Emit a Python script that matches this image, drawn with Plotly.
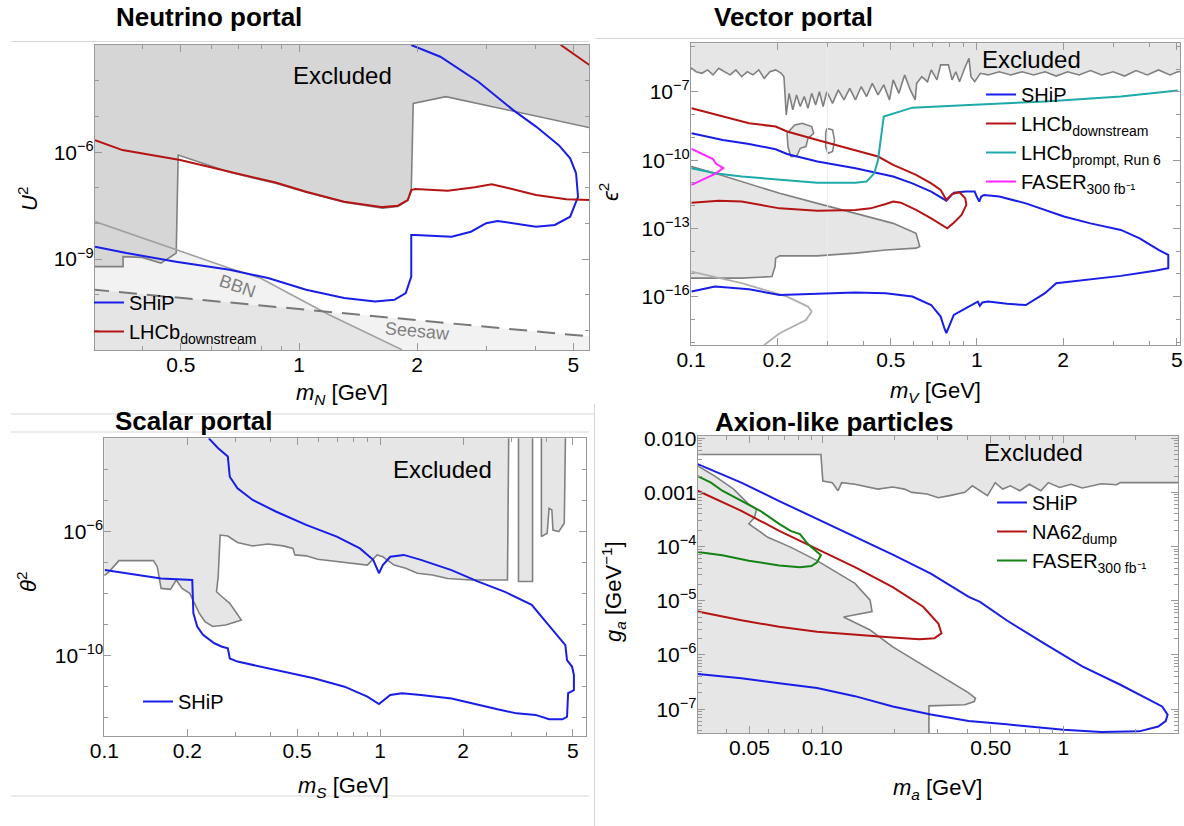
import plotly.graph_objects as go

FONT = "Liberation Sans, Arial, sans-serif"
W, H = 1184, 826

# ---------------- Neutrino portal (log10 m_N [GeV], log10 U^2) ----------------
nu_excl_logm = [-0.6, -0.520, -0.4485, -0.4485, -0.40, -0.352, -0.313, -0.308, -0.177, -0.060, 0.018,
                0.115, 0.213, 0.252, 0.277, 0.286, 0.291, 0.374, 0.740, 0.80, 0.80, -0.6]
nu_excl_logU2 = [-9.21, -9.21, -9.21, -8.93, -8.95, -9.11, -8.83, -6.08, -6.56, -6.87, -7.12,
                 -7.40, -7.57, -7.52, -7.35, -7.10, -4.63, -4.44, -5.33, -5.45, -2.5, -2.5]
nu_bbn_logm = [-0.520, -0.313, -0.177, -0.099, 0.0765, 0.262]
nu_bbn_logU2 = [-7.946, -8.74, -9.253, -9.532, -10.561, -11.54]
nu_seesaw_logm = [-0.53, 0.75]
nu_seesaw_logU2 = [-9.85, -11.18]
nu_ship_logm = [-0.520, -0.440, -0.3135, -0.177, -0.079, 0.018, 0.115, 0.194, 0.243, 0.272,
                0.286, 0.286, 0.296, 0.389, 0.438, 0.477, 0.506, 0.545, 0.604, 0.652,
                0.691, 0.711, 0.706, 0.691, 0.662, 0.604, 0.545, 0.457, 0.360, 0.286]
nu_ship_logU2 = [-8.65, -8.83, -9.07, -9.30, -9.53, -9.86, -10.09, -10.19, -10.14, -9.95,
                 -9.49, -8.32, -8.32, -8.37, -8.23, -7.99, -7.93, -7.99, -8.09, -8.04,
                 -7.81, -7.25, -6.59, -6.17, -5.80, -5.28, -4.81, -4.02, -3.32, -2.99]
nu_lhcb_logm = [-0.520, -0.450, -0.303, -0.177, -0.060, 0.018, 0.115, 0.213, 0.252, 0.277, 0.286,
                0.296, 0.379, 0.448, 0.491, 0.535, 0.604, 0.681, 0.740, None, 0.667, 0.740]
nu_lhcb_logU2 = [-5.66, -5.94, -6.22, -6.54, -6.85, -7.11, -7.39, -7.54, -7.50, -7.34, -7.06,
                 -7.03, -7.08, -6.98, -6.90, -7.01, -7.20, -7.32, -7.34, None, -2.99, -3.55]

# ---------------- Vector portal (log10 m_V [GeV], log10 eps^2) ----------------
vp_top_logm = [-0.998, -0.982, -0.962, -0.942, -0.923, -0.903, -0.883, -0.863, -0.843, -0.823,
               -0.803, -0.783, -0.763, -0.744, -0.724, -0.704, -0.684, -0.675, -0.667, -0.657,
               -0.644, -0.631, -0.618, -0.604, -0.591, -0.578, -0.564, -0.551, -0.538, -0.525,
               -0.505, -0.485, -0.465, -0.445, -0.425, -0.405, -0.386, -0.366, -0.346, -0.326,
               -0.306, -0.293, -0.273, -0.253, -0.233, -0.216, -0.211, -0.193, -0.173, -0.160,
               -0.140, -0.127, -0.100, -0.087, -0.074, -0.061, -0.041, -0.028, -0.021, -0.008,
               0.012, 0.039, 0.078, 0.118, 0.158, 0.198, 0.238, 0.277, 0.317, 0.357,
               0.397, 0.436, 0.476, 0.516, 0.556, 0.596, 0.635, 0.675, 0.702]
vp_top_logeps = [-5.96, -6.11, -6.18, -6.03, -6.25, -5.96, -6.11, -6.25, -6.03, -6.33,
                 -6.11, -6.25, -6.03, -6.40, -6.11, -6.03, -6.18, -6.33, -8.01, -7.06,
                 -7.79, -7.13, -7.64, -7.20, -7.72, -7.06, -7.57, -6.99, -7.64, -6.99,
                 -7.50, -6.91, -7.35, -6.84, -7.35, -6.77, -7.20, -6.62, -7.13, -6.69,
                 -7.35, -6.47, -7.06, -6.25, -6.91, -7.35, -6.62, -6.33, -6.55, -6.03,
                 -6.47, -5.81, -5.81, -6.47, -6.11, -6.55, -5.89, -5.52, -6.33, -6.55,
                 -6.18, -6.25, -6.11, -6.25, -6.11, -6.25, -6.11, -6.30, -6.11, -6.25,
                 -6.06, -6.25, -6.11, -6.30, -6.06, -6.25, -6.03, -6.25, -6.11]
vp_low_logm = [-1.05, -0.998, -0.916, -0.823, -0.690, -0.558, -0.425, -0.293, -0.213, -0.200, -0.213,
               -0.319, -0.425, -0.558, -0.690, -0.704, -0.706, -0.717, -0.823, -0.956, -1.05]
vp_low_logeps = [-10.28, -10.28, -10.58, -10.94, -11.46, -11.90, -12.34, -12.78, -13.22, -13.80, -13.87,
                 -13.95, -14.09, -14.21, -14.21, -14.31, -14.68, -15.12, -15.19, -15.19, -15.19]
vp_blob_logm = [-0.661, -0.664, -0.637, -0.611, -0.578, -0.571, -0.591, -0.598, -0.618, -0.631, -0.651, -0.661]
vp_blob_logeps = [-9.40, -8.82, -8.45, -8.38, -8.52, -8.82, -9.04, -9.40, -9.48, -9.84, -9.84, -9.40]
vp_loop_logm = [-0.525, -0.505, -0.498, -0.505, -0.521, -0.529, -0.529, -0.525]
vp_loop_logeps = [-8.60, -8.67, -9.11, -9.62, -9.70, -9.40, -8.82, -8.60]
vp_light_logm = [-0.998, -0.823, -0.664, -0.591, -0.578, -0.598, -0.690, -0.744]
vp_light_logeps = [-14.90, -15.41, -16.00, -16.44, -16.66, -17.03, -17.61, -18.13]
vp_ship_logm = [-0.998, -0.889, -0.797, -0.704, -0.664, -0.558, -0.425, -0.293, -0.226, -0.160,
                -0.107, -0.081, -0.041, -0.008, -0.001, 0.008, 0.015, 0.025, 0.078, 0.171,
                0.304, 0.397, 0.503, 0.569, 0.635, 0.669, 0.669, 0.622, 0.503, 0.370,
                0.277, 0.238, 0.171, 0.105, 0.039, 0.019, 0.010, 0.003, -0.041, -0.081,
                -0.100, -0.107, -0.114, -0.127, -0.160, -0.226, -0.319, -0.425, -0.558, -0.690,
                -0.797, -0.916, -0.998]
vp_ship_logeps = [-8.82, -9.11, -9.29, -9.52, -9.73, -10.06, -10.36, -10.72, -11.02, -11.38,
                  -11.78, -11.43, -11.38, -11.38, -11.60, -11.82, -11.60, -11.53, -11.60, -11.90,
                  -12.48, -12.78, -13.07, -13.44, -13.95, -14.17, -14.75, -14.86, -15.09, -15.27,
                  -15.41, -15.85, -16.37, -16.32, -16.22, -16.26, -16.41, -16.22, -16.51, -16.81,
                  -17.39, -17.61, -17.39, -16.88, -16.37, -16.00, -15.85, -15.82, -15.88, -15.93,
                  -15.68, -15.56, -15.78]
vp_lhcb_logm = [-0.998, -0.889, -0.797, -0.704, -0.664, -0.558, -0.425, -0.346, -0.293, -0.213,
                -0.160, -0.127, -0.107, -0.087, -0.061, -0.041, -0.037, -0.054, -0.081, -0.104,
                -0.160, -0.213, -0.266, -0.293, -0.319, -0.372, -0.425, -0.558, -0.690, -0.823,
                -0.903, -0.998]
vp_lhcb_logeps = [-7.72, -8.08, -8.38, -8.52, -8.74, -9.11, -9.55, -9.84, -10.21, -10.65,
                  -11.02, -11.31, -11.75, -11.49, -11.41, -11.68, -11.97, -12.41, -12.75, -13.00,
                  -12.56, -12.19, -11.87, -11.82, -11.93, -12.12, -12.19, -12.22, -12.12, -11.82,
                  -11.78, -11.87]
vp_prompt_logm = [-0.998, -0.916, -0.823, -0.690, -0.558, -0.425, -0.386, -0.359, -0.346, -0.326,
                  -0.293, -0.226, -0.028, 0.238, 0.503, 0.702]
vp_prompt_logeps = [-10.36, -10.58, -10.72, -10.87, -10.99, -10.99, -10.94, -10.58, -9.99, -8.08,
                    -7.94, -7.69, -7.57, -7.42, -7.20, -6.94]
vp_faser_logm = [-0.998, -0.956, -0.923, -0.913, -0.887, -0.916, -0.956, -0.998]
vp_faser_logeps = [-9.50, -9.75, -9.95, -10.15, -10.35, -10.60, -10.85, -11.09]

# ---------------- Scalar portal (log10 m_S [GeV], log10 theta^2) ----------------
sp_excl_logm = [-1.02, -1.02, -0.998, -0.982, -0.947, -0.822, -0.808, -0.794, -0.760, -0.739,
                -0.718, -0.690, -0.656, -0.635, -0.607, -0.559, -0.503, -0.545, -0.573, -0.593,
                -0.587, -0.580, -0.552, -0.517, -0.462, -0.406, -0.351, -0.316, -0.309, -0.268,
                -0.226, -0.157, -0.101, -0.046, -0.011, 0.010, 0.051, 0.093, 0.135, 0.190,
                0.245, 0.329, 0.462, 0.467]
sp_excl_logth = [-2.5, -7.42, -7.40, -7.29, -6.935, -6.935, -7.13, -7.83, -7.86, -7.56,
                 -7.83, -7.99, -8.63, -8.90, -9.06, -9.01, -8.85, -8.31, -8.10, -7.94,
                 -7.45, -6.11, -6.14, -6.35, -6.46, -6.40, -6.46, -6.54, -6.75, -6.78,
                 -6.89, -6.97, -7.02, -7.08, -6.75, -6.81, -7.08, -7.18, -7.34, -7.40,
                 -7.51, -7.56, -7.56, -2.5]
sp_strip2_logm = [0.502, 0.502, 0.553, 0.553]
sp_strip2_logth = [-2.5, -7.61, -7.61, -2.5]
sp_strip3_logm = [0.585, 0.585, 0.606, 0.613, 0.623, 0.627, 0.648, 0.668, 0.673]
sp_strip3_logth = [-2.5, -6.16, -6.05, -5.25, -5.30, -5.95, -6.00, -5.73, -2.5]
sp_ship_logm = [-0.621, -0.587, -0.552, -0.545, -0.517, -0.462, -0.378, -0.268, -0.157, -0.073,
                -0.025, -0.004, 0.010, 0.037, 0.086, 0.148, 0.259, 0.356, 0.453, 0.550,
                0.606, 0.648, 0.672, 0.678, 0.696, 0.703, 0.703, 0.682, 0.678, 0.662,
                0.613, 0.564, 0.495, 0.426, 0.356, 0.259, 0.148, 0.079, 0.037, -0.004,
                -0.046, -0.129, -0.240, -0.406, -0.517, -0.545, -0.552, -0.573, -0.601, -0.642,
                -0.663, -0.677, -0.681, -0.794, -0.998]
sp_ship_logth = [-2.99, -3.31, -3.58, -4.23, -4.60, -4.98, -5.35, -5.78, -6.16, -6.54,
                 -6.91, -7.34, -7.08, -6.81, -6.75, -6.91, -7.24, -7.61, -7.94, -8.36,
                 -8.96, -9.39, -9.66, -10.14, -10.35, -10.62, -11.11, -11.21, -11.97, -12.05,
                 -12.05, -11.91, -11.86, -11.73, -11.59, -11.38, -11.27, -11.21, -11.27, -11.56,
                 -11.32, -11.00, -10.73, -10.41, -10.19, -10.09, -9.76, -9.71, -9.60, -9.33,
                 -9.06, -8.63, -7.56, -7.51, -7.24]

# ---------------- Axion-like particles (log10 m_a [GeV], log10 g_a [GeV^-1]) ----------------
ap_top_logm = [-1.55, -1.55, -1.005, -0.997, -0.958, -0.934, -0.919, -0.864, -0.769, -0.707,
               -0.659, -0.628, -0.565, -0.518, -0.471, -0.408, -0.377, -0.345, -0.314, -0.282,
               -0.251, -0.219, -0.180, -0.141, -0.093, -0.062, -0.015, 0.032, 0.079, 0.158,
               0.221, 0.237, 0.52, 0.52]
ap_top_logg = [-1.5, -2.30, -2.30, -2.79, -2.82, -2.97, -2.82, -2.85, -2.94, -2.90,
               -2.94, -3.00, -3.03, -3.10, -3.06, -3.00, -2.88, -2.97, -3.06, -2.82,
               -2.94, -2.88, -2.97, -2.85, -2.97, -2.82, -2.91, -2.85, -2.92, -2.84,
               -2.86, -2.82, -2.82, -1.5]
ap_low_logm = [-1.55, -1.516, -1.445, -1.367, -1.304, -1.272, -1.280, -1.304, -1.225, -1.131,
               -1.021, -0.942, -0.864, -0.801, -0.793, -0.911, -0.801, -0.707, -0.597, -0.502,
               -0.439, -0.392, -0.364, -0.369, -0.408, -0.557, -0.557, -1.55]
ap_low_logg = [-2.45, -2.51, -2.70, -2.94, -3.22, -3.31, -3.46, -3.58, -3.83, -4.01,
               -4.26, -4.47, -4.68, -4.99, -5.20, -5.30, -5.54, -5.85, -6.15, -6.40,
               -6.58, -6.70, -6.80, -6.86, -6.92, -6.94, -7.6, -7.6]
ap_ship_logm = [-1.516, -1.335, -1.178, -1.021, -0.864, -0.738, -0.707, -0.549, -0.392, -0.345,
                -0.235, -0.078, 0.079, 0.237, 0.347, 0.410, 0.433, 0.425, 0.394, 0.315,
                0.158, 0.001, -0.235, -0.392, -0.549, -0.707, -0.864, -1.021, -1.178, -1.335, -1.516]
ap_ship_logg = [-2.48, -2.82, -3.16, -3.49, -3.83, -4.10, -4.15, -4.50, -4.93, -5.02,
                -5.36, -5.79, -6.21, -6.55, -6.80, -6.95, -7.10, -7.22, -7.32, -7.41,
                -7.42, -7.38, -7.28, -7.22, -7.10, -6.95, -6.76, -6.61, -6.52, -6.43, -6.35]
ap_na62_logm = [-1.516, -1.335, -1.178, -1.021, -0.864, -0.707, -0.581, -0.518, -0.505, -0.534,
                -0.597, -0.707, -0.864, -1.021, -1.178, -1.335, -1.516]
ap_na62_logg = [-2.97, -3.34, -3.71, -4.04, -4.38, -4.75, -5.11, -5.42, -5.60, -5.69,
                -5.71, -5.68, -5.63, -5.57, -5.48, -5.36, -5.20]
ap_faser_logm = [-1.516, -1.461, -1.414, -1.335, -1.257, -1.178, -1.131, -1.092, -1.060, -1.029,
                 -1.005, -1.021, -1.044, -1.092, -1.178, -1.304, -1.414, -1.516]
ap_faser_logg = [-2.70, -2.82, -2.97, -3.16, -3.34, -3.58, -3.71, -3.77, -3.95, -4.07,
                 -4.16, -4.29, -4.36, -4.38, -4.35, -4.26, -4.16, -4.10]

# tick labels
nu_xticks = [0.5, 1, 2, 5]
nu_yticks = [1e-9, 1e-6]
nu_ytext = ["10<sup>−9</sup>", "10<sup>−6</sup>"]
vp_xticks = [0.1, 0.2, 0.5, 1, 2, 5]
vp_yticks = [1e-16, 1e-13, 1e-10, 1e-7]
vp_ytext = ["10<sup>−16</sup>", "10<sup>−13</sup>", "10<sup>−10</sup>", "10<sup>−7</sup>"]
sp_xticks = [0.1, 0.2, 0.5, 1, 2, 5]
sp_yticks = [1e-10, 1e-6]
sp_ytext = ["10<sup>−10</sup>", "10<sup>−6</sup>"]
ap_xticks = [0.05, 0.1, 0.5, 1]
ap_xtext = ["0.05", "0.10", "0.50", "1"]
ap_yticks = [1e-7, 1e-6, 1e-5, 1e-4, 1e-3, 1e-2]
ap_ytext = ["10<sup>−7</sup>", "10<sup>−6</sup>", "10<sup>−5</sup>", "10<sup>−4</sup>", "0.001", "0.010"]


def lin(a):
    return [None if v is None else 10 ** v for v in a]


BLUE = "rgb(25,30,230)"
RED = "rgb(180,20,20)"
CYAN = "rgb(30,170,170)"
MAGENTA = "rgb(255,40,255)"
GREEN = "rgb(20,130,20)"
GRAY = "rgb(128,128,128)"
FILL1 = "rgb(214,214,214)"
FILL = "rgb(230,230,230)"

fig = go.Figure()


def poly(xl, yl, ax, fill, line=GRAY, lw=1.6):
    fig.add_trace(go.Scatter(x=lin(xl), y=lin(yl), xaxis=ax[0], yaxis=ax[1], mode="lines",
                             fill="toself", fillcolor=fill, line=dict(color=line, width=lw),
                             showlegend=False, hoverinfo="skip"))


def curve(xl, yl, ax, color, name=None, legend=None, width=2, dash=None):
    fig.add_trace(go.Scatter(x=lin(xl), y=lin(yl), xaxis=ax[0], yaxis=ax[1], mode="lines",
                             line=dict(color=color, width=width, dash=dash), name=name,
                             showlegend=name is not None, legend=legend, hoverinfo="skip"))


A1, A2, A3, A4 = ("x", "y"), ("x2", "y2"), ("x3", "y3"), ("x4", "y4")

# Neutrino portal
poly(nu_bbn_logm + [0.262, -0.6, -0.6], nu_bbn_logU2 + [-12, -12, -7.946], A1, "rgba(0,0,0,0.05)", "rgba(0,0,0,0)", 0)
poly(nu_seesaw_logm + [0.75, -0.53], nu_seesaw_logU2 + [-12, -12], A1, "rgba(0,0,0,0.05)", "rgba(0,0,0,0)", 0)
poly(nu_excl_logm, nu_excl_logU2, A1, FILL1)
curve(nu_bbn_logm, nu_bbn_logU2, A1, "rgb(160,160,160)", width=1.6)
curve(nu_seesaw_logm, nu_seesaw_logU2, A1, "rgb(120,120,120)", width=2, dash="18px,10px")
curve(nu_ship_logm, nu_ship_logU2, A1, BLUE, "SHiP", "legend")
curve(nu_lhcb_logm, nu_lhcb_logU2, A1, RED, "LHCb<sub>downstream</sub>", "legend")

# Vector portal
poly([-1.05, -1.05] + vp_top_logm + [0.75, 0.75], [-4.0, -5.96] + vp_top_logeps + [-6.11, -4.0], A2, FILL)
poly(vp_low_logm, vp_low_logeps, A2, FILL)
poly(vp_blob_logm, vp_blob_logeps, A2, FILL)
curve(vp_loop_logm, vp_loop_logeps, A2, GRAY, width=1.6)
curve(vp_light_logm, vp_light_logeps, A2, "rgb(175,175,175)", width=1.8)
curve([-0.523, -0.523], [-19, -4], A2, "rgb(235,235,235)", width=1)
curve(vp_ship_logm, vp_ship_logeps, A2, BLUE, "SHiP", "legend2")
curve(vp_lhcb_logm, vp_lhcb_logeps, A2, RED, "LHCb<sub>downstream</sub>", "legend2")
curve(vp_prompt_logm, vp_prompt_logeps, A2, CYAN, "LHCb<sub>prompt, Run 6</sub>", "legend2")
curve(vp_faser_logm, vp_faser_logeps, A2, MAGENTA, "FASER<sub>300 fb⁻¹</sub>", "legend2")

# Scalar portal
poly(sp_excl_logm, sp_excl_logth, A3, FILL)
poly(sp_strip2_logm, sp_strip2_logth, A3, FILL)
poly(sp_strip3_logm, sp_strip3_logth, A3, FILL)
curve(sp_ship_logm, sp_ship_logth, A3, BLUE, "SHiP", "legend3")

# ALPs
poly(ap_top_logm, ap_top_logg, A4, FILL)
poly(ap_low_logm, ap_low_logg, A4, FILL)
curve(ap_ship_logm, ap_ship_logg, A4, BLUE, "SHiP", "legend4")
curve(ap_na62_logm, ap_na62_logg, A4, RED, "NA62<sub>dump</sub>", "legend4")
curve(ap_faser_logm, ap_faser_logg, A4, GREEN, "FASER<sub>300 fb⁻¹</sub>", "legend4")


def minors(decades):
    out = []
    for d in decades:
        for k in range(2, 10):
            out.append(k * 10.0 ** d)
    return out


def decade_vals(lo, hi):
    return [10.0 ** d for d in range(lo, hi + 1)]


def axis(domain, rng, anchor, tickvals, ticktext, minor_vals):
    return dict(domain=domain, type="log", range=rng, anchor=anchor, automargin=False,
                tickmode="array", tickvals=tickvals, ticktext=ticktext,
                ticks="inside", ticklen=7, tickwidth=1, tickcolor="#999999",
                showline=True, linecolor="#999999", linewidth=1, mirror="ticks",
                showgrid=False, zeroline=False, ticklabeloverflow="allow", ticklabelstandoff=-4,
                tickfont=dict(size=21, color="black", family=FONT),
                minor=dict(tickmode="array", tickvals=minor_vals, ticks="inside", ticklen=4,
                           tickcolor="#999999", showgrid=False))


def px(x, y):
    return x / W, 1 - y / H


fig.update_layout(
    width=W, height=H, margin=dict(l=0, r=0, t=0, b=0, autoexpand=False),
    paper_bgcolor="white", plot_bgcolor="white",
    font=dict(family=FONT, color="black"),
    xaxis=axis([95 / W, 589.4 / W], [-0.520, 0.740], "y", nu_xticks, [str(v) for v in nu_xticks], minors([-1, 0])),
    yaxis=axis([1 - 350 / H, 1 - 45 / H], [-11.55, -2.99], "x", nu_yticks, nu_ytext, decade_vals(-11, -3)),
    xaxis2=axis([691 / W, 1180 / W], [-1.0, 0.71], "y2", vp_xticks, [str(v) for v in vp_xticks], minors([-1, 0])),
    yaxis2=axis([1 - 345 / H, 1 - 43.3 / H], [-18.13, -4.86], "x2", vp_yticks, vp_ytext, decade_vals(-18, -5)),
    xaxis3=axis([104.3 / W, 585.5 / W], [-1.0, 0.745], "y3", sp_xticks, [str(v) for v in sp_xticks], minors([-1, 0])),
    yaxis3=axis([1 - 736 / H, 1 - 438.3 / H], [-12.59, -2.99], "x3", sp_yticks, sp_ytext, decade_vals(-12, -3)),
    xaxis4=axis([697.7 / W, 1178 / W], [-1.516, 0.476], "y4", ap_xticks, ap_xtext, minors([-2, -1, 0])),
    yaxis4=axis([1 - 733 / H, 1 - 436 / H], [-7.44, -1.96], "x4", ap_yticks, ap_ytext, minors([-8, -7, -6, -5, -4, -3, -2])),
)

leg_common = dict(bgcolor="rgba(0,0,0,0)", borderwidth=0, xanchor="left", yanchor="top",
                  font=dict(size=20, family=FONT, color="black"), tracegroupgap=0, itemwidth=30)
lx, ly = px(89, 283)
fig.update_layout(legend=dict(x=lx, y=ly, **leg_common))
lx, ly = px(981, 75)
fig.update_layout(legend2=dict(x=lx, y=ly, **leg_common))
lx, ly = px(138, 682)
fig.update_layout(legend3=dict(x=lx, y=ly, **leg_common))
lx, ly = px(992, 483)
fig.update_layout(legend4=dict(x=lx, y=ly, **leg_common))


def text(s, x, y, size, color="black", angle=0):
    xx, yy = px(x, y)
    fig.add_annotation(text=s, x=xx, y=yy, xref="paper", yref="paper", showarrow=False,
                       xanchor="center", yanchor="middle", textangle=angle,
                       font=dict(size=size, color=color, family=FONT))


# panel titles
text("<b>Neutrino portal</b>", 209, 17, 26)
text("<b>Vector portal</b>", 793.5, 17, 26)
text("<b>Scalar portal</b>", 194, 421, 26)
text("<b>Axion-like particles</b>", 834, 422, 26)
# region labels
text("Excluded", 342, 76, 24)
text("Excluded", 1031, 60, 24)
text("Excluded", 442, 469, 24)
text("Excluded", 1033, 452, 24)
text("BBN", 237, 286, 18, "rgb(128,128,128)", 19)
text("Seesaw", 417, 331, 18, "rgb(128,128,128)", 5)
# axis titles
text("<i>m</i><sub><i>N</i></sub> [GeV]", 342, 394, 22)
text("<i>m</i><sub><i>V</i></sub> [GeV]", 935, 392, 22)
text("<i>m</i><sub><i>S</i></sub> [GeV]", 344, 787, 22)
text("<i>m</i><sub><i>a</i></sub> [GeV]", 937, 789, 22)
text("<i>U</i><sup>2</sup>", 28, 199, 22, angle=-90)
text("<i>ϵ</i><sup>2</sup>", 609, 192, 22, angle=-90)
text("<i>θ</i><sup>2</sup>", 27, 582, 22, angle=-90)
text("<i>g</i><sub><i>a</i></sub> [GeV<sup>−1</sup>]", 613, 592, 22, angle=-90)

# faint page separator lines of the composed figure
SEP = "rgb(215,215,215)"


def sep(x0, y0, x1, y1):
    a0, b0 = px(x0, y0)
    a1, b1 = px(x1, y1)
    fig.add_shape(type="line", xref="paper", yref="paper", x0=a0, y0=b0, x1=a1, y1=b1,
                  line=dict(color=SEP, width=1))


sep(11, 41.5, 589, 41.5)
sep(595, 38.5, 1184, 38.5)
sep(11, 414, 595, 414)
sep(11, 432, 589, 432)
sep(11, 796, 589, 796)
sep(594.5, 404, 594.5, 826)

fig.write_html("out.html", config={"displayModeBar": False},
               post_script="document.body.style.margin='0';document.body.style.overflow='hidden';")
